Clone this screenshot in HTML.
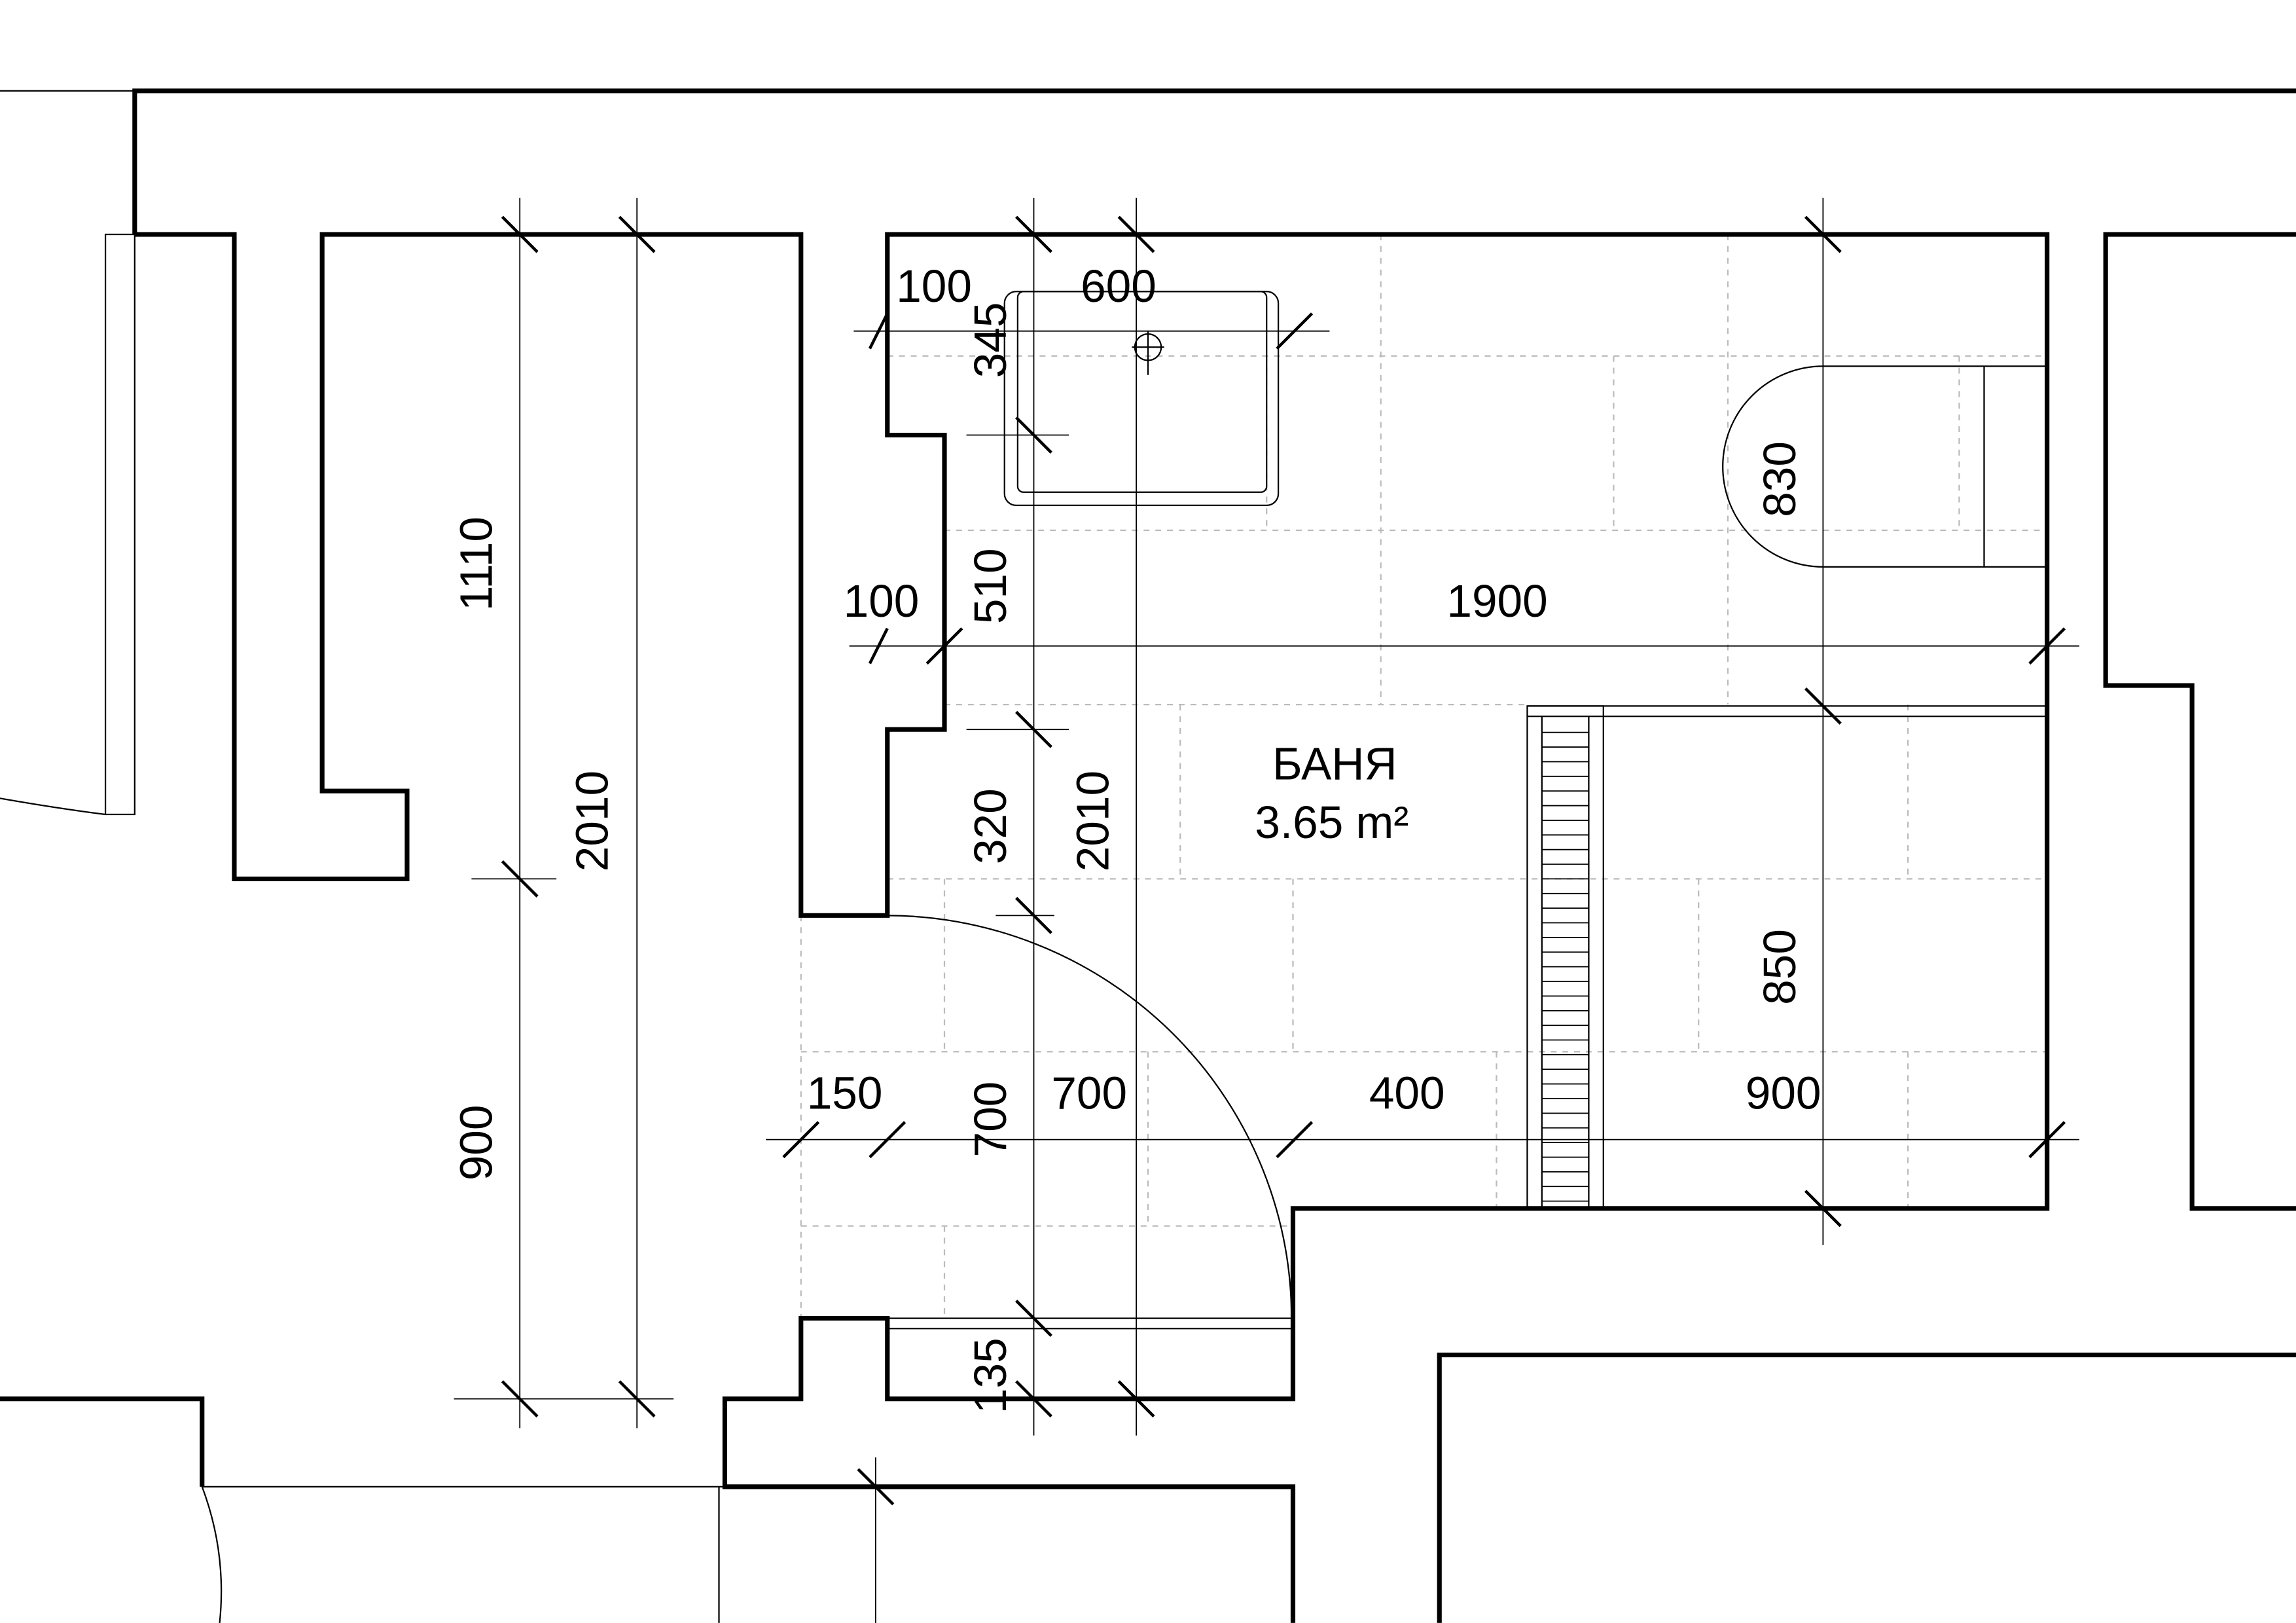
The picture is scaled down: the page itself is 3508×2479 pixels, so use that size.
<!DOCTYPE html>
<html><head><meta charset="utf-8"><style>
html,body{margin:0;padding:0;background:#fff;}
svg{display:block}
text{font-family:"Liberation Sans","Noto Sans CJK SC",sans-serif;font-size:31px;fill:#000}
</style></head><body>
<svg width="3508" height="2479" viewBox="0 0 1568 1108" xmlns="http://www.w3.org/2000/svg">
<rect width="1568" height="1108" fill="#fff"/>
<g stroke="#bbb" stroke-width="1" stroke-dasharray="4,4" fill="none">
<line x1="606" y1="243" x2="1398" y2="243"/>
<line x1="645" y1="362" x2="1398" y2="362"/>
<line x1="645" y1="481" x2="1043" y2="481"/>
<line x1="606" y1="600" x2="1398" y2="600"/>
<line x1="547" y1="718" x2="1398" y2="718"/>
<line x1="547" y1="837" x2="883" y2="837"/>
<line x1="943" y1="160" x2="943" y2="481"/>
<line x1="1180" y1="160" x2="1180" y2="481"/>
<line x1="1102" y1="243" x2="1102" y2="362"/>
<line x1="1338" y1="243" x2="1338" y2="362"/>
<line x1="865" y1="243" x2="865" y2="362"/>
<line x1="806" y1="481" x2="806" y2="600"/>
<line x1="1303" y1="481" x2="1303" y2="600"/>
<line x1="1303" y1="718" x2="1303" y2="825"/>
<line x1="645" y1="600" x2="645" y2="718"/>
<line x1="883" y1="600" x2="883" y2="718"/>
<line x1="1160" y1="600" x2="1160" y2="718"/>
<line x1="784" y1="718" x2="784" y2="837"/>
<line x1="1022" y1="718" x2="1022" y2="825"/>
<line x1="645" y1="837" x2="645" y2="900"/>
<line x1="547" y1="625" x2="547" y2="900"/>
</g>
<g stroke="#000" stroke-width="1" fill="none">
<line x1="0" y1="62" x2="92" y2="62"/>
<rect x="72" y="160" width="20" height="396"/>
<path d="M0,545 Q40,552 72,556"/>
<line x1="138" y1="1015" x2="495" y2="1015"/>
<path d="M138,1015 Q155,1060 150,1108"/>
<line x1="491" y1="1015" x2="491" y2="1108"/>
<rect x="606" y="900" width="277" height="7"/>
<path d="M606,625 A277,275 0 0 1 882,900"/>
<rect x="686" y="199" width="187" height="146" rx="8"/>
<rect x="695" y="199" width="170" height="137" rx="4"/>
<circle cx="784" cy="237" r="9"/>
<line x1="773" y1="237" x2="795" y2="237"/><line x1="784" y1="226" x2="784" y2="256"/>
<path d="M1398,250 H1245 A68,68 0 0 0 1245,387 H1398"/>
<line x1="1355" y1="250" x2="1355" y2="387"/>
<line x1="1043" y1="482" x2="1398" y2="482"/>
<line x1="1043" y1="489" x2="1398" y2="489"/>
<rect x="1043" y="482" width="52" height="343"/>
<line x1="1053" y1="489" x2="1053" y2="825"/><line x1="1085" y1="489" x2="1085" y2="825"/>
</g>
<g stroke="#000" stroke-width="0.8">
<path d="M1053,500 H1085 M1053,510 H1085 M1053,520 H1085 M1053,530 H1085 M1053,540 H1085 M1053,550 H1085 M1053,560 H1085 M1053,570 H1085 M1053,580 H1085 M1053,590 H1085 M1053,600 H1085 M1053,610 H1085 M1053,620 H1085 M1053,630 H1085 M1053,640 H1085 M1053,650 H1085 M1053,660 H1085 M1053,670 H1085 M1053,680 H1085 M1053,690 H1085 M1053,700 H1085 M1053,710 H1085 M1053,720 H1085 M1053,730 H1085 M1053,740 H1085 M1053,750 H1085 M1053,760 H1085 M1053,770 H1085 M1053,780 H1085 M1053,790 H1085 M1053,800 H1085 M1053,810 H1085 M1053,820 H1085"/>
</g>
<g stroke="#000" stroke-width="0.8" fill="none">
<line x1="355" y1="135" x2="355" y2="975"/>
<line x1="435" y1="135" x2="435" y2="975"/>
<line x1="706" y1="135" x2="706" y2="980"/>
<line x1="776" y1="135" x2="776" y2="980"/>
<line x1="1245" y1="135" x2="1245" y2="850"/>
<line x1="583" y1="226" x2="908" y2="226"/>
<line x1="580" y1="441" x2="1420" y2="441"/>
<line x1="523" y1="778" x2="1420" y2="778"/>
<line x1="322" y1="600" x2="380" y2="600"/>
<line x1="310" y1="955" x2="460" y2="955"/>
<line x1="660" y1="297" x2="730" y2="297"/>
<line x1="660" y1="498" x2="730" y2="498"/>
<line x1="680" y1="625" x2="720" y2="625"/>
<line x1="598" y1="995" x2="598" y2="1108"/>
</g>
<g stroke="#000" stroke-width="2">
<path d="M343,148 l24,24 M423,148 l24,24 M694,148 l24,24 M764,148 l24,24 M1233,148 l24,24
M343,588 l24,24 M343,943 l24,24 M423,943 l24,24 M694,888 l24,24 M764,943 l24,24 M694,943 l24,24
M594,238 l12,-24 M872,238 l24,-24 M694,285 l24,24
M594,453 l12,-24 M633,453 l24,-24 M1386,453 l24,-24
M694,486 l24,24 M694,613 l24,24 M1233,470 l24,24
M535,790 l24,-24 M594,790 l24,-24 M872,790 l24,-24 M1386,790 l24,-24 M1233,813 l24,24
M586,1003 l24,24"/>
</g>
<g stroke="#000" stroke-width="3.2" fill="none" stroke-linejoin="miter">
<path d="M92,160 V62 H1568"/>
<path d="M92,160 H160 V600 H278 V540 H220 V160 H547 V625 H606 V498 H645 V297 H606 V160 H1398 V825 H883 V955 H606 V900 H547 V955 H495 V1015 H883 V1108"/>
<path d="M0,955 H138 V1015"/>
<path d="M1568,160 H1438 V468 H1497 V825 H1568"/>
<path d="M983,1108 V925 H1568"/>
</g>
<text x="612" y="206">100</text>
<text x="738" y="206">600</text>
<text x="576" y="421">100</text>
<text x="988" y="421">1900</text>
<text x="551" y="757">150</text>
<text x="718" y="757">700</text>
<text x="935" y="757">400</text>
<text x="1192" y="757">900</text>
<text x="869" y="532">БАНЯ</text>
<text x="857" y="572">3.65 m²</text>
<g>
<text transform="translate(336,417) rotate(-90)">1110</text>
<text transform="translate(415,595) rotate(-90)">2010</text>
<text transform="translate(336,806) rotate(-90)">900</text>
<text transform="translate(687,258) rotate(-90)">345</text>
<text transform="translate(687,426) rotate(-90)">510</text>
<text transform="translate(687,590) rotate(-90)">320</text>
<text transform="translate(757,595) rotate(-90)">2010</text>
<text transform="translate(687,790) rotate(-90)">700</text>
<text transform="translate(687,965) rotate(-90)">135</text>
<text transform="translate(1226,353) rotate(-90)">830</text>
<text transform="translate(1226,686) rotate(-90)">850</text>
</g>
</svg>
</body></html>
